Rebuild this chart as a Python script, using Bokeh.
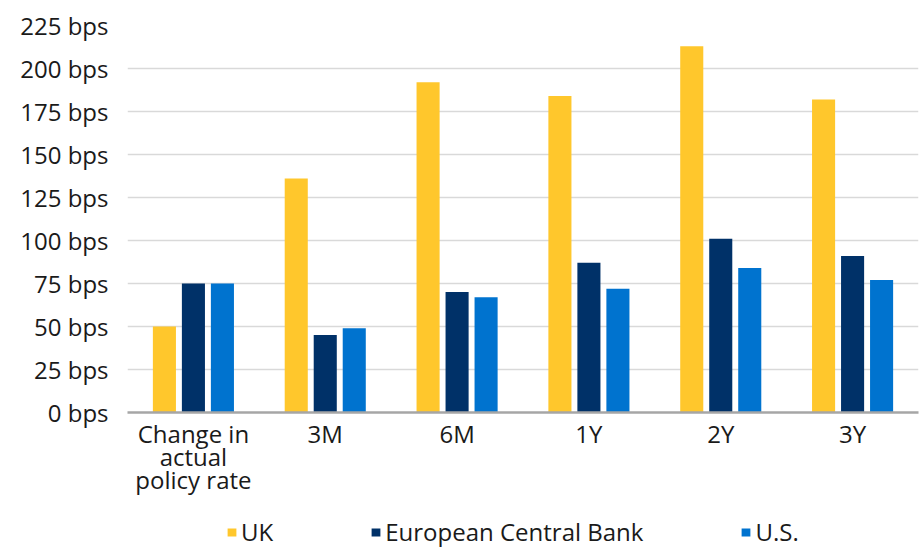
from bokeh.plotting import figure
from bokeh.layouts import column
from bokeh.models import (ColumnDataSource, FactorRange, Range1d, FixedTicker,
                          PrintfTickFormatter, Legend, LegendItem)
from bokeh.transform import dodge
from bokeh.embed import file_html
from bokeh.resources import INLINE

categories = ["Change in\nactual\npolicy rate", "3M", "6M", "1Y", "2Y", "3Y"]
uk = [50, 136, 192, 184, 213, 182]
ecb = [75, 45, 70, 87, 101, 91]
us = [75, 49, 67, 72, 84, 77]
series_names = ["UK", "European Central Bank", "U.S."]
y_ticks = [0, 25, 50, 75, 100, 125, 150, 175, 200, 225]

colors = ["#FFC72C", "#003168", "#0073CF"]
FONT = "Open Sans"
FS = "24px"
TXT = "#1a1a1a"
W = 0.175
OFFS = [-0.22, 0.0, 0.22]
FIELDS = ["uk", "ecb", "us"]

src = ColumnDataSource(dict(cat=categories, uk=uk, ecb=ecb, us=us))

# ---- main chart ----
p = figure(x_range=FactorRange(*categories, range_padding=0),
           y_range=Range1d(0, 225),
           width=920, height=516, output_backend="svg", toolbar_location=None,
           min_border_left=127, min_border_right=2, min_border_top=25,
           min_border_bottom=104)
p.outline_line_color = None
p.background_fill_color = "white"
p.border_fill_color = "white"

for f, off, c in zip(FIELDS, OFFS, colors):
    p.vbar(x=dodge("cat", off, range=p.x_range), top=f, width=W, source=src,
           fill_color=c, line_color=None)

p.xgrid.grid_line_color = None
p.ygrid.grid_line_color = "#d9d9d9"
p.ygrid.grid_line_width = 1.5
p.ygrid.ticker = FixedTicker(ticks=y_ticks)

p.yaxis.ticker = FixedTicker(ticks=y_ticks)
p.yaxis.formatter = PrintfTickFormatter(format="%d bps")
p.yaxis.axis_line_color = None
p.yaxis.major_tick_line_color = None
p.yaxis.minor_tick_line_color = None
p.yaxis.major_tick_out = 0
p.yaxis.minor_tick_out = 0
p.yaxis.major_label_standoff = 19

p.xaxis.axis_line_color = "#a6a6a6"
p.xaxis.axis_line_width = 2.5
p.xaxis.major_tick_line_color = None
p.xaxis.minor_tick_line_color = None
p.xaxis.major_tick_out = 0
p.xaxis.minor_tick_out = 0
p.xaxis.major_label_standoff = 4
p.xaxis.major_label_text_line_height = 0.71

for ax in (p.xaxis, p.yaxis):
    ax.major_label_text_font = FONT
    ax.major_label_text_font_size = FS
    ax.major_label_text_color = TXT

# ---- legend strip (frame is aligned with the main chart's frame) ----
lg = figure(x_range=p.x_range, y_range=Range1d(1000, 1001),
            width=920, height=32, output_backend="svg", toolbar_location=None,
            x_axis_location=None, y_axis_location=None,
            min_border_left=0, min_border_right=0, min_border_top=0,
            min_border_bottom=0)
lg.outline_line_color = None
lg.grid.visible = False
lg.border_fill_color = "white"
lg.background_fill_color = "white"

rs = []
for f, off, c in zip(FIELDS, OFFS, colors):
    rs.append(lg.vbar(x=dodge("cat", off, range=lg.x_range), top=f, width=W,
                      source=src, fill_color=c, line_color=None))

legend = Legend(items=[LegendItem(label=n, renderers=[r]) for n, r in zip(series_names, rs)],
                orientation="horizontal", location=(99, 0))
legend.label_text_font = FONT
legend.label_text_font_size = FS
legend.label_text_color = TXT
legend.glyph_width = 11
legend.glyph_height = 10
legend.label_standoff = 4
legend.spacing = 97
legend.padding = 0
legend.margin = 0
legend.border_line_color = None
legend.background_fill_alpha = 0
lg.add_layout(legend, "center")

layout = column(p, lg, spacing=0)
open("out.html", "w").write(file_html(layout, INLINE))
